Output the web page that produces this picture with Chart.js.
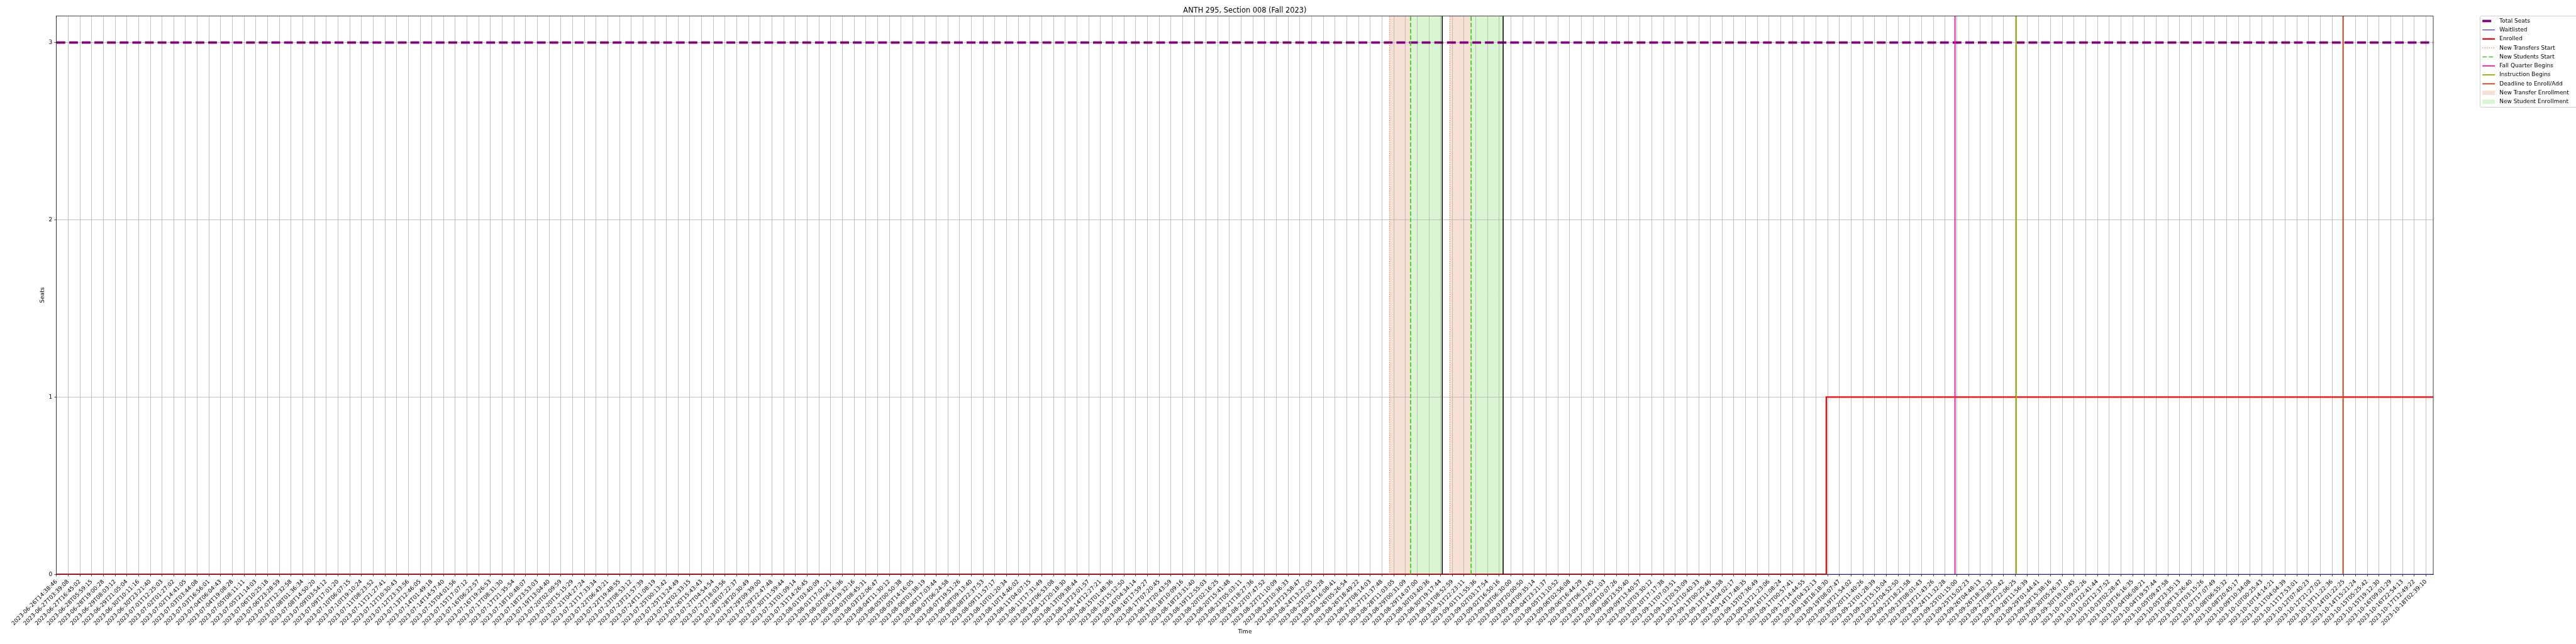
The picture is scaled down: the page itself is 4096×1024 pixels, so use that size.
<!DOCTYPE html>
<html>
<head>
<meta charset="utf-8">
<title>ANTH 295, Section 008 (Fall 2023)</title>
<script src="https://cdn.jsdelivr.net/npm/chart.js@4.4.1/dist/chart.umd.min.js"></script>
<style>
  html, body { margin: 0; padding: 0; background: #fff; }
  #wrap { width: 4096px; height: 1024px; }
</style>
</head>
<body>
<div id="wrap"><canvas id="seatsChart" width="4096" height="1024"></canvas></div>
<script>
// everything is drawn at 0.682 of the original figure
const S = 0.682;
const FONT = '"DejaVu Sans", sans-serif';

// x tick labels (one per tick, ticks are evenly spaced)
const tickLabels = [
  '2023-06-26T14:38:46', '2023-06-27T03:39:08', '2023-06-27T16:45:02', '2023-06-28T05:59:15',
  '2023-06-28T19:00:28', '2023-06-29T08:03:12', '2023-06-29T21:05:04', '2023-06-30T10:11:16',
  '2023-06-30T23:21:40', '2023-07-01T12:25:03', '2023-07-02T01:27:02', '2023-07-02T14:41:05',
  '2023-07-03T03:44:08', '2023-07-03T16:56:01', '2023-07-04T06:04:43', '2023-07-04T19:08:28',
  '2023-07-05T08:11:11', '2023-07-05T21:14:03', '2023-07-06T10:25:18', '2023-07-06T23:28:59',
  '2023-07-07T12:32:58', '2023-07-08T01:36:34', '2023-07-08T14:50:20', '2023-07-09T03:54:12',
  '2023-07-09T17:01:20', '2023-07-10T06:07:15', '2023-07-10T19:10:24', '2023-07-11T08:23:52',
  '2023-07-11T21:27:41', '2023-07-12T10:30:43', '2023-07-12T23:33:56', '2023-07-13T12:46:05',
  '2023-07-14T01:49:18', '2023-07-14T14:57:40', '2023-07-15T04:01:56', '2023-07-15T17:07:12',
  '2023-07-16T06:22:57', '2023-07-16T19:26:53', '2023-07-17T08:31:30', '2023-07-17T21:35:54',
  '2023-07-18T10:48:07', '2023-07-18T23:53:03', '2023-07-19T13:04:40', '2023-07-20T02:09:59',
  '2023-07-20T15:15:29', '2023-07-21T04:27:24', '2023-07-21T17:33:34', '2023-07-22T06:43:21',
  '2023-07-22T19:48:55', '2023-07-23T08:53:12', '2023-07-23T21:57:39', '2023-07-24T11:08:19',
  '2023-07-25T00:13:42', '2023-07-25T13:24:49', '2023-07-26T02:33:15', '2023-07-26T15:43:43',
  '2023-07-27T04:54:54', '2023-07-27T18:03:56', '2023-07-28T07:22:37', '2023-07-28T20:30:49',
  '2023-07-29T09:39:00', '2023-07-29T22:47:48', '2023-07-30T11:59:44', '2023-07-31T01:09:14',
  '2023-07-31T14:26:45', '2023-08-01T03:40:09', '2023-08-01T17:01:21', '2023-08-02T06:16:36',
  '2023-08-02T19:32:16', '2023-08-03T08:45:31', '2023-08-03T22:06:47', '2023-08-04T11:30:12',
  '2023-08-05T00:50:38', '2023-08-05T14:16:05', '2023-08-06T03:38:19', '2023-08-06T17:03:44',
  '2023-08-07T06:24:58', '2023-08-07T19:51:26', '2023-08-08T09:13:40', '2023-08-08T22:37:53',
  '2023-08-09T11:57:17', '2023-08-10T01:20:34', '2023-08-10T14:46:02', '2023-08-11T04:07:15',
  '2023-08-11T17:31:49', '2023-08-12T06:53:08', '2023-08-12T20:18:30', '2023-08-13T09:38:44',
  '2023-08-13T23:01:57', '2023-08-14T12:27:21', '2023-08-15T01:48:36', '2023-08-15T15:12:50',
  '2023-08-16T04:34:14', '2023-08-16T17:59:27', '2023-08-17T07:20:45', '2023-08-17T20:43:59',
  '2023-08-18T10:09:16', '2023-08-18T23:31:40', '2023-08-19T12:55:03', '2023-08-20T02:16:25',
  '2023-08-20T15:41:48', '2023-08-21T05:03:11', '2023-08-21T18:27:36', '2023-08-22T07:47:52',
  '2023-08-22T21:10:09', '2023-08-23T10:36:33', '2023-08-23T23:58:47', '2023-08-24T13:22:05',
  '2023-08-25T02:43:28', '2023-08-25T16:08:41', '2023-08-26T05:26:54', '2023-08-26T18:49:22',
  '2023-08-27T08:14:03', '2023-08-27T21:37:48', '2023-08-28T11:03:05', '2023-08-29T00:31:09',
  '2023-08-29T14:07:00', '2023-08-30T03:40:36', '2023-08-30T19:17:44', '2023-08-31T08:52:59',
  '2023-08-31T22:23:11', '2023-09-01T11:55:36', '2023-09-02T03:17:54', '2023-09-02T16:50:16',
  '2023-09-03T06:30:00', '2023-09-03T20:00:50', '2023-09-04T09:35:14', '2023-09-04T23:21:37',
  '2023-09-05T13:10:52', '2023-09-06T02:56:08', '2023-09-06T16:44:29', '2023-09-07T06:31:45',
  '2023-09-07T20:21:03', '2023-09-08T10:07:26', '2023-09-08T23:55:40', '2023-09-09T13:40:57',
  '2023-09-10T03:30:12', '2023-09-10T17:17:38', '2023-09-11T07:03:51', '2023-09-11T20:53:09',
  '2023-09-12T10:40:33', '2023-09-13T00:25:46', '2023-09-13T14:13:58', '2023-09-14T04:02:17',
  '2023-09-14T17:48:35', '2023-09-15T07:36:49', '2023-09-15T21:23:06', '2023-09-16T11:08:24',
  '2023-09-17T00:57:41', '2023-09-17T14:44:55', '2023-09-18T04:32:13', '2023-09-18T18:18:30',
  '2023-09-19T08:07:47', '2023-09-19T21:54:02', '2023-09-20T11:40:26', '2023-09-21T01:28:39',
  '2023-09-21T15:15:04', '2023-09-22T04:52:50', '2023-09-22T18:21:58', '2023-09-23T08:01:43',
  '2023-09-23T21:43:26', '2023-09-24T11:32:28', '2023-09-25T01:15:00', '2023-09-25T15:02:23',
  '2023-09-26T04:48:13', '2023-09-26T18:32:32', '2023-09-27T08:20:42', '2023-09-27T22:06:25',
  '2023-09-28T11:56:39', '2023-09-29T01:44:41', '2023-09-29T15:38:16', '2023-09-30T05:26:37',
  '2023-09-30T19:10:45', '2023-10-01T09:02:26', '2023-10-01T22:41:44', '2023-10-02T12:37:52',
  '2023-10-03T02:28:47', '2023-10-03T16:16:35', '2023-10-04T06:08:21', '2023-10-04T19:57:44',
  '2023-10-05T09:47:58', '2023-10-05T23:35:13', '2023-10-06T13:26:40', '2023-10-07T03:15:26',
  '2023-10-07T17:07:49', '2023-10-08T06:55:32', '2023-10-08T20:45:17', '2023-10-09T10:34:08',
  '2023-10-10T00:25:43', '2023-10-10T14:14:21', '2023-10-11T04:04:39', '2023-10-11T17:53:01',
  '2023-10-12T07:40:23', '2023-10-12T21:27:02', '2023-10-13T11:22:36', '2023-10-14T01:22:25',
  '2023-10-14T15:21:24', '2023-10-15T05:25:42', '2023-10-15T19:12:30', '2023-10-16T09:01:29',
  '2023-10-16T22:54:13', '2023-10-17T12:49:22', '2023-10-18T02:39:10'
];

// x is measured in tick steps (tick i sits at x = i)
const xEnd = 202.62;
const yTop = 3.15;
const yTicks = [0, 1, 2, 3];

// series
const seatsAt = [0, xEnd];
const totalSeats = [3, 3];
const waitAt = [0, xEnd];
const waitlisted = [0, 0];
const enrolledAt = [0, 150.88, xEnd];
const enrolled = [0, 1, 1];

// events
const transfersStart = [113.65, 118.79];
const studentsStart = [115.44, 120.60];
const enrollmentClose = [118.14, 123.33];
const fallBegins = [161.85];
const instructionBegins = [167.07];
const deadlineAdd = [194.93];

const C = {
  seats: '#800080', wait: '#0000ff', enrolled: '#ff0000',
  transfer: '#ee6a2e', student: '#3acb18', fall: '#e3179c',
  instr: '#8db600', deadline: '#cc461b', close: '#000000',
  transferFill: '#f6dfd4', studentFill: '#d9f4d0'
};

function lineSet(label, xs, ys, color, width, dash, order, extra) {
  return Object.assign({
    label: label,
    data: xs.map((x, i) => ({ x: x, y: ys[i] })),
    borderColor: color,
    backgroundColor: color,
    borderWidth: width,
    borderDash: dash,
    pointRadius: 0,
    pointHoverRadius: 0,
    fill: false,
    tension: 0,
    order: order
  }, extra || {});
}

// one dataset per vertical event line
function vlines(label, xs, color, width, dash) {
  return xs.map(x => lineSet(label, [x, x], [0, yTop], color, width, dash, 0));
}

const datasets = [
  ...vlines('Deadline to Enroll/Add', deadlineAdd, C.deadline, 1.85, []),
  ...vlines('Instruction Begins', instructionBegins, C.instr, 1.85, []),
  ...vlines('Fall Quarter Begins', fallBegins, C.fall, 1.85, []),
  ...vlines('', enrollmentClose, C.close, 1.5, []),
  ...vlines('New Students Start', studentsStart, C.student, 1.7, [7, 3]),
  ...vlines('New Transfers Start', transfersStart, C.transfer, 1.3, [1.3, 2.2]),
  lineSet('Enrolled', enrolledAt, enrolled, C.enrolled, 2.2, [], 1, { stepped: true }),
  lineSet('Waitlisted', waitAt, waitlisted, C.wait, 1.0, [], 2),
  lineSet('Total Seats', seatsAt, totalSeats, C.seats, 3.8, [14, 6.1], 3)
];

const legendItems = [
  { text: 'Total Seats', type: 'line', color: C.seats, width: 3.8, dash: [14, 6.1] },
  { text: 'Waitlisted', type: 'line', color: C.wait, width: 1.0, dash: [] },
  { text: 'Enrolled', type: 'line', color: C.enrolled, width: 2.2, dash: [] },
  { text: 'New Transfers Start', type: 'line', color: C.transfer, width: 1.3, dash: [1.3, 2.2] },
  { text: 'New Students Start', type: 'line', color: C.student, width: 1.7, dash: [7, 3] },
  { text: 'Fall Quarter Begins', type: 'line', color: C.fall, width: 1.85, dash: [] },
  { text: 'Instruction Begins', type: 'line', color: C.instr, width: 1.85, dash: [] },
  { text: 'Deadline to Enroll/Add', type: 'line', color: C.deadline, width: 1.85, dash: [] },
  { text: 'New Transfer Enrollment', type: 'patch', color: C.transferFill },
  { text: 'New Student Enrollment', type: 'patch', color: C.studentFill }
];

// spans under the grid, title, labels, spines and legend on top
const decor = {
  id: 'decor',
  beforeDraw(chart) {
    const { ctx, chartArea: a, scales: { x } } = chart;
    ctx.save();
    ctx.beginPath();
    ctx.rect(a.left, a.top, a.right - a.left, a.bottom - a.top);
    ctx.clip();
    transfersStart.forEach((t, i) => {
      const x0 = x.getPixelForValue(t), x1 = x.getPixelForValue(studentsStart[i]);
      ctx.fillStyle = C.transferFill;
      ctx.fillRect(x0, a.top, x1 - x0, a.bottom - a.top);
    });
    studentsStart.forEach((t, i) => {
      const x0 = x.getPixelForValue(t), x1 = x.getPixelForValue(enrollmentClose[i]);
      ctx.fillStyle = C.studentFill;
      ctx.fillRect(x0, a.top, x1 - x0, a.bottom - a.top);
    });
    ctx.restore();
  },
  afterDraw(chart) {
    const { ctx, chartArea: a } = chart;
    ctx.save();
    // top and right spines
    ctx.strokeStyle = '#000';
    ctx.lineWidth = 0.76;
    ctx.beginPath();
    ctx.moveTo(a.left, a.top);
    ctx.lineTo(a.right, a.top);
    ctx.lineTo(a.right, a.bottom);
    ctx.stroke();

    ctx.fillStyle = '#000';
    ctx.font = '11.4px ' + FONT;
    ctx.textAlign = 'center';
    ctx.textBaseline = 'alphabetic';
    ctx.fillText('ANTH 295, Section 008 (Fall 2023)', (a.left + a.right) / 2, 19.8);

    ctx.font = '9px ' + FONT;
    ctx.textBaseline = 'middle';
    ctx.fillText('Time', (a.left + a.right) / 2, 1004.5);
    ctx.save();
    ctx.translate(67.9, (a.top + a.bottom) / 2);
    ctx.rotate(-Math.PI / 2);
    ctx.fillText('Seats', 0, 0);
    ctx.restore();

    // legend (runs past the right edge, like the original)
    const lx = 3943.5, ly = 25.4, lh = 145.1, lw = 200;
    ctx.beginPath();
    ctx.roundRect(lx, ly, lw, lh, 2.7);
    ctx.fillStyle = 'rgba(255,255,255,0.8)';
    ctx.fill();
    ctx.strokeStyle = '#cccccc';
    ctx.lineWidth = 0.95;
    ctx.stroke();

    const hx0 = 3947.2, hx1 = 3967.1, tx = 3974.2;
    legendItems.forEach((it, i) => {
      const y = 33.4 + i * 14.27;
      if (it.type === 'line') {
        ctx.strokeStyle = it.color;
        ctx.lineWidth = it.width;
        ctx.setLineDash(it.dash);
        ctx.beginPath();
        ctx.moveTo(hx0, y);
        ctx.lineTo(hx1, y);
        ctx.stroke();
        ctx.setLineDash([]);
      } else {
        ctx.fillStyle = it.color;
        ctx.fillRect(hx0, y - 3.4, hx1 - hx0, 6.8);
      }
      ctx.fillStyle = '#000';
      ctx.textAlign = 'left';
      ctx.fillText(it.text, tx, y);
    });
    ctx.restore();
  }
};

Chart.defaults.font.family = FONT;
Chart.defaults.font.size = 9;
Chart.defaults.color = '#000';

const ctx = document.getElementById('seatsChart').getContext('2d');
new Chart(ctx, {
  type: 'line',
  data: { datasets: datasets },
  options: {
    responsive: false,
    animation: false,
    devicePixelRatio: 1,
    events: [],
    layout: { padding: { left: 0, top: 25.4, right: 227, bottom: 0 } },
    plugins: { legend: { display: false }, title: { display: false }, tooltip: { enabled: false } },
    scales: {
      x: {
        type: 'linear',
        min: 0,
        max: xEnd,
        afterBuildTicks: (scale) => { scale.ticks = tickLabels.map((_, i) => ({ value: i })); },
        afterFit: (scale) => { scale.height = 110.8; scale.paddingLeft = 0; scale.paddingRight = 0; },
        grid: { color: '#b0b0b0', lineWidth: 0.76, tickColor: '#000', tickLength: 3.3 },
        border: { display: true, color: '#000', width: 0.76 },
        ticks: {
          autoSkip: false,
          minRotation: 45,
          maxRotation: 45,
          padding: 3.3,
          font: { size: 9 },
          callback: (v) => tickLabels[v] !== undefined ? tickLabels[v] : ''
        }
      },
      y: {
        type: 'linear',
        min: 0,
        max: yTop,
        afterBuildTicks: (scale) => { scale.ticks = yTicks.map(v => ({ value: v })); },
        afterFit: (scale) => { scale.width = 89.8; },
        grid: { color: '#b0b0b0', lineWidth: 0.76, tickColor: '#000', tickLength: 3.3 },
        border: { display: true, color: '#000', width: 0.76 },
        ticks: { padding: 3.3, font: { size: 9 } }
      }
    }
  },
  plugins: [decor]
});
</script>
</body>
</html>
